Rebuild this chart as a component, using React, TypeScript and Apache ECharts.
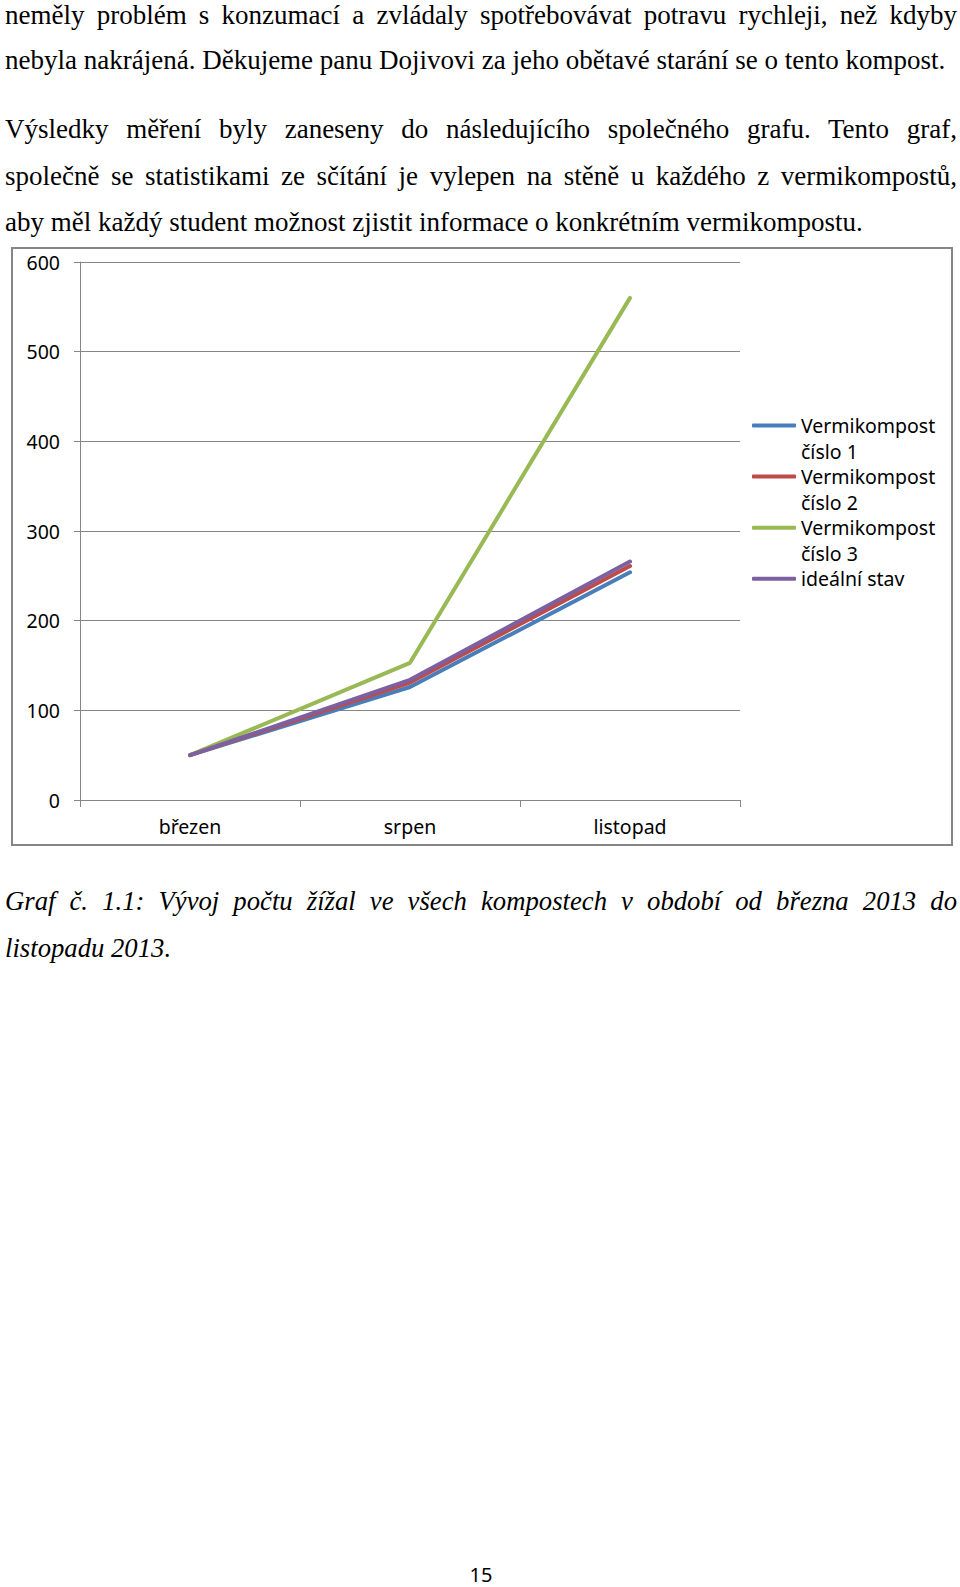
import React, { useEffect, useRef } from "react";
import * as echarts from "echarts";

// ---- data ----
const categories = ["březen", "srpen", "listopad"];
const seriesNames = [
  "Vermikompost číslo 1",
  "Vermikompost číslo 2",
  "Vermikompost číslo 3",
  "ideální stav",
];
const vermikompost1 = [50, 126, 254];
const vermikompost2 = [50, 131, 261];
const vermikompost3 = [50, 153, 560];
const idealniStav = [50, 134, 266];
const yTicks = [0, 100, 200, 300, 400, 500, 600];
const seriesColors = ["#4A7EBB", "#BE4B48", "#98B954", "#7D60A0"];

// ---- page text ----
const bodyLines = [
  { text: "neměly problém s konzumací a zvládaly spotřebovávat potravu rychleji, než kdyby", justify: true, base: 24.4 },
  { text: "nebyla nakrájená. Děkujeme panu Dojivovi za jeho obětavé starání se o tento kompost.", justify: false, base: 69 },
  { text: "Výsledky měření byly zaneseny do následujícího společného grafu. Tento graf,", justify: true, base: 138.5 },
  { text: "společně se statistikami ze sčítání je vylepen na stěně u každého z vermikompostů,", justify: true, base: 185 },
  { text: "aby měl každý student možnost zjistit informace o konkrétním vermikompostu.", justify: false, base: 231.5 },
];
const captionLines = [
  { text: "Graf č. 1.1: Vývoj počtu žížal ve všech kompostech v období od března 2013 do", justify: true, base: 910 },
  { text: "listopadu 2013.", justify: false, base: 957 },
];
const pageNumber = "15";

const SANS = "'Noto Sans', 'Open Sans', sans-serif";

function TextLine(props: { text: string; justify: boolean; base: number; italic?: boolean; size: number }) {
  const lh = 24;
  const top = props.base - lh / 2 - 0.3375 * props.size;
  return (
    <div
      style={{
        position: "absolute",
        left: 5,
        top,
        width: 952,
        height: lh,
        lineHeight: lh + "px",
        fontFamily: "'Liberation Serif', 'Times New Roman', serif",
        fontSize: props.size,
        fontStyle: props.italic ? "italic" : "normal",
        color: "#000",
        whiteSpace: "nowrap",
        textAlign: props.justify ? "justify" : "left",
        textAlignLast: props.justify ? "justify" : "left",
      } as React.CSSProperties}
    >
      {props.text}
    </div>
  );
}

function Chart() {
  const ref = useRef<HTMLDivElement>(null);
  useEffect(() => {
    if (!ref.current) return;
    const chart = echarts.init(ref.current, null, { renderer: "svg" });
    const dataSets = [vermikompost1, vermikompost2, vermikompost3, idealniStav];
    const axisGray = "#868686";
    chart.setOption({
      animation: false,
      backgroundColor: "#fff",
      textStyle: { fontFamily: SANS },
      graphic: [
        {
          type: "rect",
          shape: { x: 12, y: 8, width: 940, height: 597 },
          style: { fill: "none", stroke: axisGray, lineWidth: 2 },
          silent: true,
        },
      ],
      grid: { left: 80, right: 220, top: 22, bottom: 60 },
      xAxis: {
        type: "category",
        data: categories,
        boundaryGap: true,
        axisLine: { show: true, lineStyle: { color: axisGray, width: 1 } },
        axisTick: { show: true, interval: 0, length: 7, lineStyle: { color: axisGray } },
        axisLabel: { color: "#000", fontSize: 19.5, margin: 16, fontFamily: SANS },
        splitLine: { show: false },
      },
      yAxis: {
        type: "value",
        min: yTicks[0],
        max: yTicks[yTicks.length - 1],
        interval: yTicks[1] - yTicks[0],
        axisLine: { show: true, lineStyle: { color: axisGray, width: 1 } },
        axisTick: { show: true, length: 6, lineStyle: { color: axisGray } },
        axisLabel: { color: "#000", fontSize: 19.5, margin: 20, fontFamily: SANS },
        splitLine: { show: true, lineStyle: { color: axisGray, width: 1 } },
      },
      legend: {
        orient: "vertical",
        left: 752,
        top: 146.5,
        padding: 0,
        itemGap: -26.9,
        itemWidth: 44,
        itemHeight: 4,
        icon: "roundRect",
        itemStyle: { borderWidth: 0 },
        selectedMode: false,
        data: seriesNames,
        textStyle: { color: "#000", fontSize: 19.5, lineHeight: 26, fontFamily: SANS },
        formatter: (name: string) => {
          if (name.indexOf(" číslo") >= 0) return " \n" + name.replace(" číslo", "\nčíslo");
          return " \n" + name + "\n ";
        },
      },
      series: seriesNames.map((n, i) => ({
        name: n,
        type: "line",
        data: dataSets[i],
        symbol: "none",
        showSymbol: false,
        lineStyle: { color: seriesColors[i], width: 4, cap: "round", join: "round" },
        itemStyle: { color: seriesColors[i] },
        z: 2 + i,
      })),
    });
    return () => chart.dispose();
  }, []);
  return <div ref={ref} style={{ position: "absolute", left: 0, top: 240, width: 960, height: 620 }} />;
}

export default function App() {
  return (
    <div style={{ position: "absolute", left: 0, top: 0, width: 960, height: 1587, background: "#fff", overflow: "hidden" }}>
      {bodyLines.map((l, i) => (
        <TextLine key={"b" + i} text={l.text} justify={l.justify} base={l.base} size={27} />
      ))}
      <Chart />
      {captionLines.map((l, i) => (
        <TextLine key={"c" + i} text={l.text} justify={l.justify} base={l.base} size={26.7} italic />
      ))}
      <div
        style={{
          position: "absolute",
          left: 431,
          width: 100,
          top: 1564,
          height: 22,
          lineHeight: "22px",
          textAlign: "center",
          fontFamily: SANS,
          fontSize: 20,
          color: "#000",
        }}
      >
        {pageNumber}
      </div>
    </div>
  );
}
